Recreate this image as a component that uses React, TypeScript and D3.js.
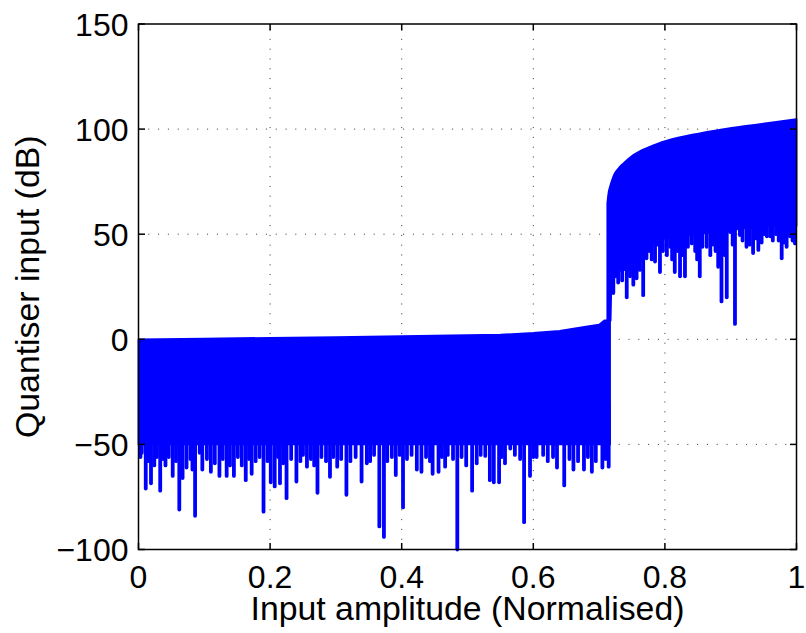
import React from "react";
import * as d3 from "d3";

// Envelope of the quantiser input below the overload point (x, dB)
const lowTop: [number, number][] = [
  [0, 0], [0.1, 0.3], [0.2, 0.7], [0.3, 1.0], [0.4, 1.5], [0.5, 2.0],
  [0.55, 2.2], [0.6, 3.0], [0.64, 4.0], [0.68, 6.0], [0.7, 7.0],
  [0.708, 9.0], [0.7166, 9.0],
];
const lowFloor: [number, number][] = [
  [0, -50], [0.1, -50], [0.2, -50], [0.3, -50], [0.4, -50],
  [0.5, -50], [0.6, -50], [0.7166, -50],
];

// Envelope above the overload point
const highTop: [number, number][] = [
  [0.7125, 64.7], [0.7145, 70], [0.7166, 72.6], [0.72, 76], [0.724, 79],
  [0.73, 81.5], [0.737, 83.7], [0.752, 87.7], [0.777, 91.6], [0.803, 94.5],
  [0.853, 98], [0.904, 100.7], [0.955, 102.8], [1.0, 104.7],
];
const highFloor: [number, number][] = [
  [0.7125, 9], [0.7175, 9], [0.719, 32], [0.76, 34], [0.77, 44],
  [0.8, 48], [0.85, 50], [0.9, 52], [0.95, 54], [1.0, 54],
];

// Deep downward excursions (x, minimum dB)
const lowSpikes: [number, number][] = [
  [0.005, -54], [0.011, -71], [0.019, -68.5], [0.033, -72], [0.037, -57],
  [0.052, -65], [0.062, -81], [0.067, -66], [0.073, -61], [0.086, -84],
  [0.093, -54], [0.097, -62], [0.11, -63], [0.123, -65], [0.134, -65],
  [0.145, -65], [0.163, -67], [0.172, -64], [0.19, -82], [0.201, -68],
  [0.207, -70], [0.215, -68.5], [0.225, -75.6], [0.24, -67.7], [0.256, -60.6],
  [0.272, -73], [0.291, -65.4], [0.302, -60.6], [0.316, -74], [0.339, -67.7],
  [0.347, -59], [0.366, -89], [0.373, -94], [0.378, -58], [0.391, -64.6],
  [0.402, -80], [0.423, -62], [0.43, -63], [0.447, -64], [0.456, -63],
  [0.466, -60.6], [0.4845, -100], [0.498, -60], [0.507, -72], [0.514, -59],
  [0.527, -55.5], [0.534, -67], [0.54, -68], [0.548, -68], [0.557, -59],
  [0.565, -52], [0.586, -87], [0.595, -65], [0.605, -56], [0.636, -61],
  [0.647, -69.5], [0.661, -62], [0.677, -62], [0.689, -63], [0.705, -61],
  [0.7146, -60.6],
];
// Shallow excursions that roughen the lower edge of the band
const lowFringe: [number, number][] = [
  [0.003, -56], [0.015, -58], [0.024, -60], [0.028, -56], [0.041, -60],
  [0.046, -56], [0.057, -58], [0.079, -57], [0.082, -62], [0.104, -57],
  [0.116, -59], [0.128, -57], [0.139, -60], [0.151, -56], [0.157, -60],
  [0.168, -57], [0.178, -58], [0.184, -56], [0.196, -58], [0.212, -56],
  [0.22, -59], [0.232, -57], [0.246, -58], [0.25, -55], [0.262, -57],
  [0.267, -60], [0.278, -56], [0.285, -58], [0.296, -56], [0.308, -57],
  [0.322, -58], [0.33, -56], [0.352, -58], [0.358, -55], [0.385, -56],
  [0.397, -55], [0.408, -57], [0.415, -55], [0.437, -56], [0.443, -58],
  [0.461, -56], [0.47, -55], [0.478, -57], [0.491, -56], [0.52, -55],
  [0.552, -56], [0.572, -55], [0.58, -57], [0.6, -56], [0.615, -55],
  [0.622, -58], [0.63, -56], [0.655, -57], [0.668, -58], [0.683, -56],
  [0.695, -58], [0.71, -57],
];
const highSpikes: [number, number][] = [
  [0.7216, 22], [0.729, 27], [0.742, 20], [0.752, 26], [0.767, 21],
  [0.772, 38.5], [0.785, 37], [0.7925, 32], [0.803, 40], [0.815, 32],
  [0.823, 30], [0.8305, 30], [0.841, 45.6], [0.853, 30], [0.8635, 44],
  [0.881, 34.5], [0.886, 18], [0.894, 20], [0.899, 51], [0.9065, 7.3],
  [0.914, 49.6], [0.924, 44], [0.934, 41], [0.942, 42.5], [0.955, 49],
  [0.96, 49], [0.9775, 38.5], [0.985, 44], [0.9977, 45.6],
];
const highFringe: [number, number][] = [
  [0.725, 30], [0.735, 28], [0.747, 30], [0.757, 29], [0.762, 33],
  [0.776, 42], [0.78, 38], [0.789, 45], [0.797, 42], [0.808, 44],
  [0.811, 38], [0.819, 42], [0.827, 40], [0.835, 44], [0.846, 42],
  [0.849, 38], [0.857, 44], [0.869, 40], [0.874, 45], [0.877, 42],
  [0.891, 40], [0.903, 45], [0.918, 47], [0.929, 45], [0.938, 48],
  [0.947, 46], [0.951, 50], [0.964, 47], [0.969, 50], [0.973, 47],
  [0.981, 46], [0.99, 49], [0.994, 47],
];

const xTicks = [0, 0.2, 0.4, 0.6, 0.8, 1];
const xTickLabels = ["0", "0.2", "0.4", "0.6", "0.8", "1"];
const yTicks = [-100, -50, 0, 50, 100, 150];
const yTickLabels = ["\u2212100", "\u221250", "0", "50", "100", "150"];

const W = 806;
const H = 633;
const left = 138.5;
const right = 796.5;
const top = 24;
const bottom = 549.5;
const BLUE = "#0000ff";
const FONT = "'Liberation Sans', Arial, Helvetica, sans-serif";

export default function App() {
  const x = d3.scaleLinear().domain([0, 1]).range([left, right]);
  const y = d3.scaleLinear().domain([-100, 150]).range([bottom, top]);

  const band = (topPts: [number, number][], floorPts: [number, number][], curve: d3.CurveFactory) => {
    const upper = d3.line<[number, number]>().x((d) => x(d[0])).y((d) => y(d[1])).curve(curve)(topPts) || "";
    const lower = d3
      .line<[number, number]>()
      .x((d) => x(d[0]))
      .y((d) => y(d[1]))(floorPts.slice().reverse()) || "";
    return upper + "L" + lower.slice(1) + "Z";
  };

  const lowPath = band(lowTop, lowFloor, d3.curveLinear);
  const highPath = band(highTop, highFloor, d3.curveMonotoneX);
  const tickLen = 6.5;

  const spikeLines = (pts: [number, number][], from: number, key: string) =>
    pts.map(([sx, sv], i) => (
      <line key={key + i} x1={x(sx)} x2={x(sx)} y1={y(from)} y2={y(sv)} />
    ));

  return (
    <svg
      width={W}
      height={H}
      style={{ position: "absolute", left: 0, top: 0, background: "#fff" }}
      fontFamily={FONT}
    >
      <rect x={0} y={0} width={W} height={H} fill="#fff" />

      {/* dotted grid */}
      <g stroke="#333" strokeWidth={1} strokeDasharray="1 8.8">
        {xTicks.slice(1, -1).map((t) => (
          <line key={"gx" + t} x1={x(t)} x2={x(t)} y1={bottom} y2={top} />
        ))}
        {yTicks.slice(1, -1).map((t) => (
          <line key={"gy" + t} x1={left} x2={right} y1={y(t)} y2={y(t)} />
        ))}
      </g>

      {/* signal */}
      <g fill={BLUE} stroke={BLUE} strokeWidth={1.8} strokeLinejoin="round">
        <path d={lowPath} />
        <path d={highPath} />
      </g>
      <g stroke={BLUE} strokeWidth={3.8} strokeLinecap="round">
        {spikeLines(lowFringe, -30, "lf")}
        {spikeLines(lowSpikes, -30, "ls")}
        {spikeLines(highFringe, 60, "hf")}
        {spikeLines(highSpikes, 60, "hs")}
      </g>

      {/* axes box and ticks */}
      <g stroke="#000" strokeWidth={1.5} fill="none">
        <rect x={left} y={top} width={right - left} height={bottom - top} />
        {xTicks.map((t) => (
          <g key={"tx" + t}>
            <line x1={x(t)} x2={x(t)} y1={bottom} y2={bottom - tickLen} />
            <line x1={x(t)} x2={x(t)} y1={top} y2={top + tickLen} />
          </g>
        ))}
        {yTicks.map((t) => (
          <g key={"ty" + t}>
            <line x1={left} x2={left + tickLen} y1={y(t)} y2={y(t)} />
            <line x1={right} x2={right - tickLen} y1={y(t)} y2={y(t)} />
          </g>
        ))}
      </g>

      {/* tick labels */}
      <g fontSize={32} fill="#000">
        {xTicks.map((t, i) => (
          <text key={"lx" + t} x={x(t)} y={bottom + 38.5} textAnchor="middle">
            {xTickLabels[i]}
          </text>
        ))}
        {yTicks.map((t, i) => (
          <text key={"ly" + t} x={left - 10} y={y(t) + 11.5} textAnchor="end">
            {yTickLabels[i]}
          </text>
        ))}
      </g>

      {/* axis labels */}
      <text x={(left + right) / 2} y={620} textAnchor="middle" fontSize={33.8} fill="#000">
        Input amplitude (Normalised)
      </text>
      <text
        transform={`translate(39, ${(top + bottom) / 2}) rotate(-90)`}
        textAnchor="middle"
        fontSize={33.8}
        fill="#000"
      >
        Quantiser input (dB)
      </text>
    </svg>
  );
}
